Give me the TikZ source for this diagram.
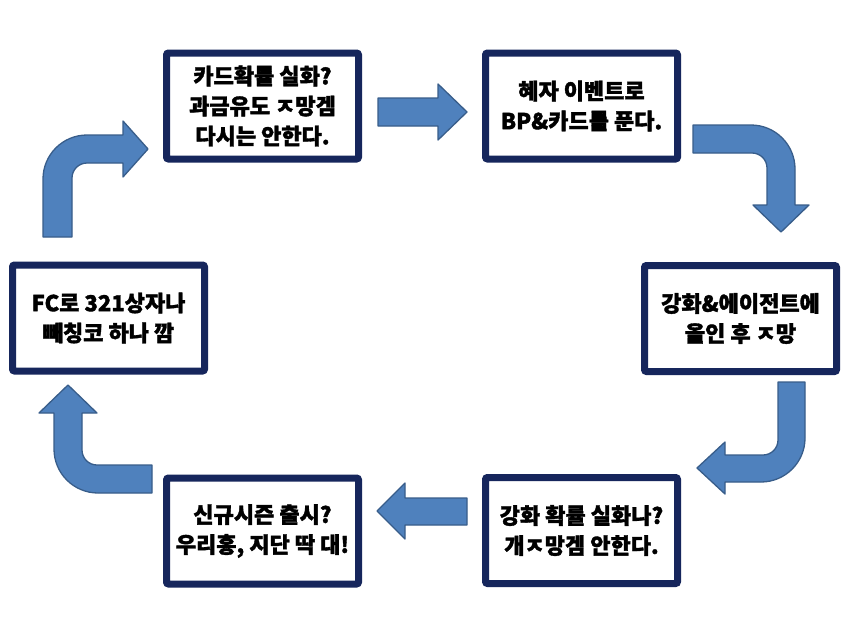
\documentclass[tikz,border=0pt]{standalone}
\usepackage{fontspec}
\setmainfont{Noto Sans CJK KR}[BoldFeatures={FakeBold=1.6}]
\definecolor{navy}{HTML}{16265C}
\definecolor{arrfill}{HTML}{4F81BD}
\definecolor{arrline}{HTML}{385D8A}
\tikzset{
  card/.style={draw=navy, line width=7pt, fill=white, rounded corners=2pt,
    minimum width=192pt, minimum height=106pt, align=center,
    font=\fontsize{22}{30}\selectfont\bfseries, inner sep=0pt},
  blockarrow/.style={fill=arrfill, draw=arrline, line width=1.3pt, line join=round}
}
\begin{document}
\begin{tikzpicture}[x=1pt,y=-1pt]
\useasboundingbox (0,0) rectangle (850,637);
\fill[white] (0,0) rectangle (850,637);

\node[card] (b1) at (262.5,106) {카드확률 실화?\\과금유도 ㅈ망겜\\다시는 안한다.};
\node[card] (b2) at (581.5,106) {혜자 이벤트로\\BP\&카드를 푼다.};
\node[card] (b3) at (740.5,318.5) {강화\&에이전트에\\올인 후 ㅈ망};
\node[card] (b4) at (581.5,530.5) {강화 확률 실화나?\\개ㅈ망겜 안한다.};
\node[card] (b5) at (262.5,531) {신규시즌 출시?\\우리홍, 지단 딱 대!};
\node[card] (b6) at (108.5,318) {FC로 321상자나\\빼칭코 하나 깜};

% straight arrows
\draw[blockarrow] (378,98) -- (438,98) -- (438,84) -- (467,112) -- (438,140) -- (438,126) -- (378,126) -- cycle;
\draw[blockarrow] (467,498) -- (405,498) -- (405,483) -- (377,511) -- (405,539) -- (405,525) -- (467,525) -- cycle;

% top-left bent arrow
\draw[blockarrow] (43,237) [rounded corners=44pt] -- (43,135) [sharp corners] -- (123,135) -- (123,121) -- (148,149) -- (123,177) -- (123,163) [rounded corners=15pt] -- (72,163) [sharp corners] -- (72,237) -- cycle;
% top-right bent arrow
\draw[blockarrow] (693,125) [rounded corners=44pt] -- (795,125) [sharp corners] -- (795,205) -- (809,205) -- (781,232) -- (753,205) -- (767,205) [rounded corners=15pt] -- (767,153) [sharp corners] -- (693,153) -- cycle;
% bottom-right bent arrow
\draw[blockarrow] (778,382) -- (805,382) [rounded corners=44pt] -- (805,482) [sharp corners] -- (725,482) -- (725,494) -- (697,468) -- (725,442) -- (725,455) [rounded corners=15pt] -- (778,455) [sharp corners] -- cycle;
% bottom-left bent arrow
\draw[blockarrow] (152,493) [rounded corners=44pt] -- (54,493) [sharp corners] -- (54,413) -- (39,413) -- (68,385) -- (97,413) -- (82,413) [rounded corners=15pt] -- (82,465) [sharp corners] -- (152,465) -- cycle;
\end{tikzpicture}
\end{document}
